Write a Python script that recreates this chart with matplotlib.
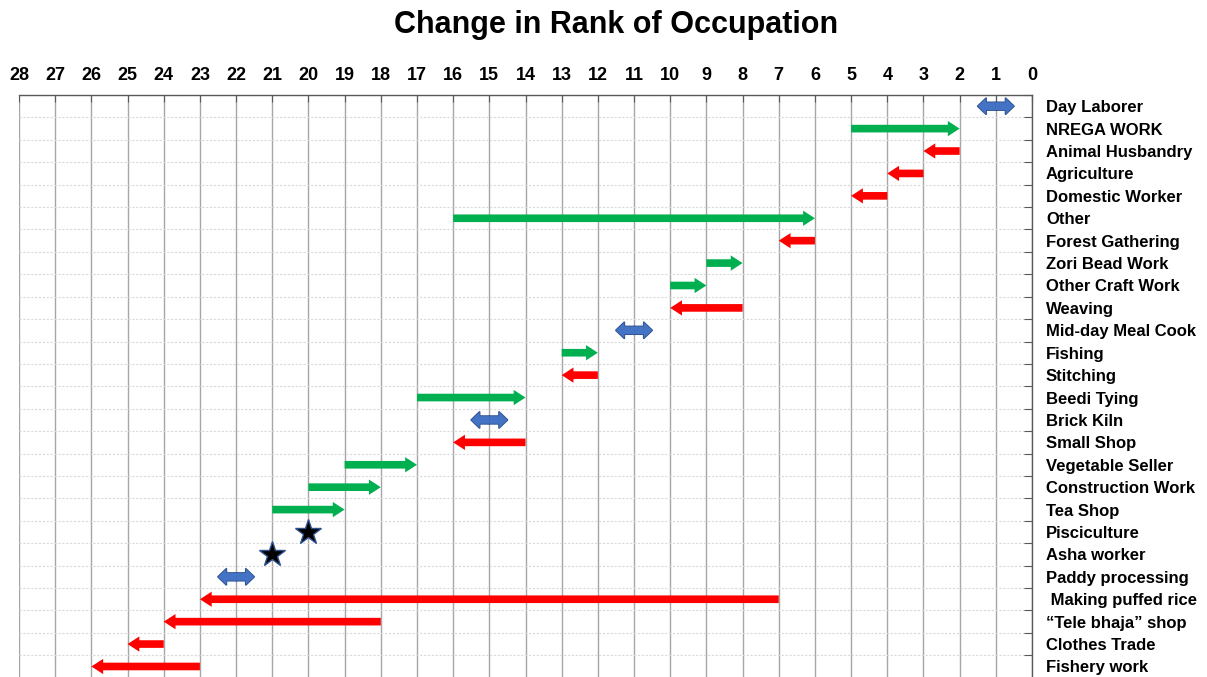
import matplotlib.pyplot as plt
from matplotlib.patches import FancyArrowPatch, ArrowStyle
from matplotlib.ticker import FixedLocator

plt.rcParams['font.family'] = ['Liberation Sans', 'DejaVu Sans']

occupations = ['Day Laborer', 'NREGA WORK', 'Animal Husbandry', 'Agriculture',
               'Domestic Worker', 'Other', 'Forest Gathering', 'Zori Bead Work',
               'Other Craft Work', 'Weaving', 'Mid-day Meal Cook', 'Fishing',
               'Stitching', 'Beedi Tying', 'Brick Kiln', 'Small Shop',
               'Vegetable Seller', 'Construction Work', 'Tea Shop', 'Pisciculture',
               'Asha worker', 'Paddy processing', ' Making puffed rice',
               '\u201cTele bhaja\u201d shop', 'Clothes Trade', 'Fishery work']
# earlier rank (None = new occupation, shown as a star)
rank_before = [1, 5, 2, 3, 4, 16, 6, 9, 10, 8, 11, 13, 12, 17, 15, 14,
               19, 20, 21, None, None, 22, 7, 18, 24, 23]
rank_after = [1, 2, 3, 4, 5, 6, 7, 8, 9, 10, 11, 12, 13, 14, 15, 16,
              17, 18, 19, 20, 21, 22, 23, 24, 25, 26]

GREEN = '#00B050'
RED = '#FF0000'
BLUE = '#4472C4'
BLUE_EDGE = '#2F528F'

fig = plt.figure(figsize=(12.07, 6.77), dpi=100)
ax = fig.add_axes([19 / 1207, -0.001, 1013 / 1207, 1 - 95 / 677 + 0.001])

n = len(occupations)
ax.set_xlim(28, 0)
ax.set_ylim(n, 0)

one_way = ArrowStyle.Simple(head_length=8.5, head_width=11, tail_width=5.5)
two_way = ArrowStyle.Simple(head_length=6, head_width=11.5, tail_width=5.5)

for i, (a, b) in enumerate(zip(rank_before, rank_after)):
    y = i + 0.5
    if a is None:
        ax.plot(b, y, marker='*', ms=19, mfc='black', mec=BLUE_EDGE,
                mew=1, zorder=5)
    elif a == b:
        for lw, z in [(1.3, 3), (0, 4)]:
            for end in (b - 0.5, b + 0.5):
                ax.add_patch(FancyArrowPatch((b, y), (end, y), arrowstyle=two_way,
                                             mutation_scale=1, shrinkA=0, shrinkB=0,
                                             fc=BLUE, ec=BLUE_EDGE, lw=lw, zorder=z))
    else:
        col = GREEN if b < a else RED
        ax.add_patch(FancyArrowPatch((a, y), (b, y), arrowstyle=one_way,
                                     mutation_scale=1, shrinkA=0, shrinkB=0,
                                     fc=col, ec=col, lw=0, zorder=4))

# x axis on top
ax.xaxis.set_major_locator(FixedLocator(range(0, 29)))
ax.xaxis.tick_top()
ax.tick_params(axis='x', which='major', direction='in', length=5, color='#595959',
               labelsize=13, pad=8)
for lab in ax.get_xticklabels():
    lab.set_fontweight('bold')

# y axis: boundaries as major ticks, names on minor ticks
ax.yaxis.set_major_locator(FixedLocator(range(0, n + 1)))
ax.yaxis.set_minor_locator(FixedLocator([i + 0.5 for i in range(n)]))
ax.yaxis.tick_right()
ax.set_yticklabels([], minor=False)
ax.set_yticklabels(occupations, minor=True, fontsize=12, fontweight='bold')
ax.tick_params(axis='y', which='major', direction='in', length=6, color='#595959')
ax.tick_params(axis='y', which='minor', length=0, pad=10)

ax.grid(axis='x', color='#A6A6A6', lw=1)
ax.grid(axis='y', which='major', color='#D9D9D9', lw=0.8, ls=(0, (2, 1.5)))
ax.set_axisbelow(True)

for s in ['left', 'bottom']:
    ax.spines[s].set_visible(False)
for s in ['top', 'right']:
    ax.spines[s].set_color('#595959')
    ax.spines[s].set_linewidth(1)

fig.text(616 / 1207, 1 - 25 / 677, 'Change in Rank of Occupation', fontsize=22,
         fontweight='bold', ha='center', va='center')

fig.savefig('out.png', dpi=100)
